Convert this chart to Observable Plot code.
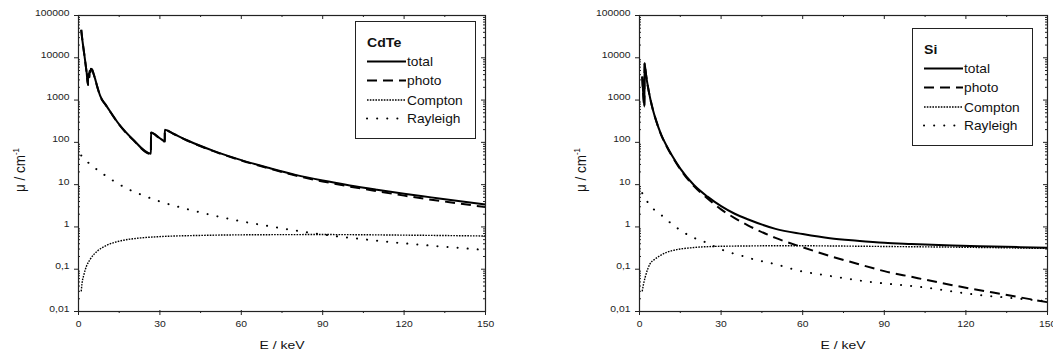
<!DOCTYPE html>
<html><head><meta charset="utf-8">
<script src="https://cdn.jsdelivr.net/npm/d3@7"></script>
<script src="https://cdn.jsdelivr.net/npm/@observablehq/plot@0.6"></script>
<style>
body{margin:0;background:#fff;font-family:"Liberation Sans",Arial,sans-serif;}
#wrap{position:relative;width:1053px;height:353px;overflow:hidden;background:#fff;}
.panel{position:absolute;top:0;}
.xtitle,.ytitle{position:absolute;color:#111;white-space:nowrap;}
.xtitle{font-size:11px;}
.ytitle{font-size:13.5px;}
.legend{position:absolute;}
</style></head><body><div id="wrap"></div>
<script>
// ---------- data ----------
const seriesNames = ["total", "photo", "Compton", "Rayleigh"];
const xTicks = [0, 30, 60, 90, 120, 150];
const yTicks = [0.01, 0.1, 1, 10, 100, 1000, 10000, 100000];

// CdTe
const cdteE = [1, 1.5, 2, 2.5, 3, 3.5, 3.52, 4.0, 4.02, 4.5, 4.52, 5, 5.5, 6, 7, 8, 10, 12, 15, 20, 26.7, 26.71, 30, 31.8, 31.81, 35, 40, 50, 60, 70, 80, 90, 100, 110, 120, 130, 140, 150];
const cdteTotal = [46000, 24000, 14000, 8000, 4500, 2300, 4100, 3500, 4900, 4600, 5500, 5300, 4300, 3400, 2000, 1250, 780, 500, 265, 118, 54, 170, 125, 107, 200, 160, 112, 62, 38, 25, 17, 12.5, 9.6, 7.6, 6.1, 5.0, 4.1, 3.4];
const cdtePhoto = [45500, 23700, 13800, 7900, 4450, 2270, 4050, 3460, 4850, 4550, 5450, 5250, 4250, 3360, 1970, 1230, 770, 494, 261, 116, 53, 168, 123, 105, 198, 158, 110.5, 61, 37.3, 24.4, 16.4, 11.9, 9.0, 7.0, 5.5, 4.4, 3.6, 2.95];
const cdteComptonE = [1, 1.3, 2, 3, 4.4, 7, 10.5, 15, 23, 30, 45, 60, 90, 120, 150];
const cdteCompton = [0.03, 0.046, 0.075, 0.12, 0.175, 0.27, 0.37, 0.46, 0.55, 0.59, 0.63, 0.65, 0.66, 0.64, 0.61];
const cdteRayleighE = [1, 2, 3, 5, 9, 12.6, 18, 24, 30, 39.4, 50, 58.4, 70, 78, 90, 104, 120, 135, 150];
const cdteRayleigh = [49, 42, 36, 28, 18, 12.6, 8, 5.5, 4.0, 2.7, 1.85, 1.42, 1.05, 0.86, 0.66, 0.52, 0.41, 0.34, 0.285];

// Si
const siE = [1, 1.83, 1.84, 2, 2.5, 3, 4, 5, 6, 8, 10, 12, 15, 20, 25, 30, 35, 40, 50, 60, 70, 80, 90, 100, 115, 130, 150];
const siTotal = [3600, 700, 7500, 6400, 3600, 2250, 1050, 570, 345, 150, 82, 48, 24, 9.8, 5.2, 3.1, 2.05, 1.5, 0.9, 0.68, 0.54, 0.47, 0.42, 0.395, 0.365, 0.345, 0.32];
const siPhoto = [3580, 690, 7480, 6380, 3590, 2240, 1045, 565, 341, 148, 80, 46.5, 23, 9.2, 4.7, 2.6, 1.62, 1.08, 0.55, 0.33, 0.205, 0.135, 0.09, 0.066, 0.042, 0.028, 0.0166];
const siComptonE = [1, 1.5, 2.1, 3, 3.9, 5.5, 7.6, 10, 12.5, 18.7, 27, 40, 55, 70, 90, 120, 150];
const siCompton = [0.03, 0.045, 0.065, 0.1, 0.135, 0.17, 0.21, 0.25, 0.28, 0.32, 0.345, 0.355, 0.36, 0.355, 0.345, 0.33, 0.31];
const siRayleighE = [1, 1.25, 3.9, 7.9, 11.7, 15.6, 19.5, 23.3, 30.9, 35, 38.6, 42.6, 46.5, 50.6, 58, 69, 85, 103.4, 121.7, 140, 150];
const siRayleigh = [6.3, 5.9, 3.2, 1.94, 1.2, 0.79, 0.57, 0.46, 0.28, 0.23, 0.2, 0.167, 0.148, 0.128, 0.094, 0.071, 0.05, 0.038, 0.026, 0.02, 0.0175];

// ---------- styles ----------
const lineStyles = {
  total:    {strokeWidth: 2,   strokeDasharray: null},
  photo:    {strokeWidth: 2,   strokeDasharray: "10,6"},
  Compton:  {strokeWidth: 1.4, strokeDasharray: "1.6,1.2"},
  Rayleigh: {strokeWidth: 2,   strokeDasharray: "0.1,10", strokeLinecap: "round"}
};

const zip = (E, v) => E.map((e, i) => ({E: e, mu: v[i]}));
const minorY = [];
for (let p = -2; p < 5; p++) for (let m = 2; m <= 9; m++) minorY.push(+(m * Math.pow(10, p)).toPrecision(3));
const minorX = d3.range(15, 150, 30);

const H = 353, MT = 15, MB = 42;
const PH = H - MT - MB;

function stretchText(svg, sel, k) {
  svg.querySelectorAll(sel).forEach(t => {
    let tr = t.getAttribute("transform") || "";
    const x = t.getAttribute("x"), y = t.getAttribute("y");
    if (x != null || y != null) {
      tr += ` translate(${+x || 0},${+y || 0})`;
      t.removeAttribute("x"); t.removeAttribute("y");
    }
    t.setAttribute("transform", tr + ` scale(${k},1)`);
  });
}

function makePanel(series, width, ml, mr) {
  const PW = width - ml - mr;
  const marks = [];
  for (const name of seriesNames) {
    const s = lineStyles[name];
    marks.push(Plot.line(series[name], {x: "E", y: "mu", stroke: "#000", curve: "monotone-x",
      strokeWidth: s.strokeWidth, strokeDasharray: s.strokeDasharray, strokeLinecap: s.strokeLinecap || "butt"}));
  }
  const xMajor = xTicks;
  const yMajor = yTicks;
  marks.push(
    Plot.frame({stroke: "#222", strokeWidth: 1.2}),
    // bottom ticks
    Plot.tickX(xMajor, {x: d => d, stroke: "#222", insetTop: PH - 1, insetBottom: -4}),
    Plot.tickX(minorX, {x: d => d, stroke: "#222", insetTop: PH, insetBottom: -2}),
    // top ticks (inward)
    Plot.tickX(xMajor, {x: d => d, stroke: "#222", insetBottom: PH - 4}),
    Plot.tickX(minorX, {x: d => d, stroke: "#222", insetBottom: PH - 2}),
    // left ticks
    Plot.tickY(yMajor, {y: d => d, stroke: "#222", insetLeft: -4, insetRight: PW - 1}),
    Plot.tickY(minorY, {y: d => d, stroke: "#222", insetLeft: 0, insetRight: PW - 2}),
    // right ticks
    Plot.tickY(yMajor, {y: d => d, stroke: "#222", insetLeft: PW - 4, insetRight: -1}),
    Plot.tickY(minorY, {y: d => d, stroke: "#222", insetLeft: PW - 2, insetRight: 0}),
    Plot.axisX({ticks: xTicks, tickSize: 0, tickPadding: 15, fontSize: 9, label: null, fill: "#222"}),
    Plot.axisY({ticks: yTicks, tickSize: 0, tickPadding: 9, fontSize: 9, label: null, fill: "#222",
      tickFormat: d => String(d).replace(".", ",")})
  );
  const svg = Plot.plot({
    width, height: H, marginLeft: ml, marginRight: mr, marginTop: MT, marginBottom: MB,
    style: {fontFamily: "'Liberation Sans', Arial, sans-serif", background: "transparent", overflow: "visible"},
    x: {domain: [0, 150]},
    y: {type: "log", domain: [0.01, 100000]},
    marks
  });
  stretchText(svg, 'g[aria-label="x-axis tick label"] text, g[aria-label="y-axis tick label"] text', 1.15);
  return svg;
}

function makeLegend(title, left, top) {
  const w = 121, h = 118;
  const svg = d3.create("svg").attr("class", "legend").attr("width", w).attr("height", h)
    .style("left", left + "px").style("top", top + "px");
  svg.append("rect").attr("x", 0.5).attr("y", 0.5).attr("width", w - 1).attr("height", h - 1)
    .attr("fill", "#fff").attr("stroke", "#222").attr("stroke-width", 1);
  const x0 = 12, x1 = 51, rowY = [40.5, 59.5, 79, 97.5];
  svg.append("text").attr("transform", `translate(${x0},25.5) scale(1.13,1)`)
    .attr("font-weight", "bold").attr("font-size", 12.5).attr("fill", "#111").text(title);
  seriesNames.forEach((name, i) => {
    const s = lineStyles[name];
    svg.append("line").attr("x1", x0).attr("x2", x1).attr("y1", rowY[i]).attr("y2", rowY[i])
      .attr("stroke", "#000").attr("stroke-width", s.strokeWidth)
      .attr("stroke-dasharray", s.strokeDasharray).attr("stroke-linecap", s.strokeLinecap || "butt");
    svg.append("text").attr("transform", `translate(${x1 + 1},${rowY[i] + 4.5}) scale(1.1,1)`)
      .attr("font-size", 12.5).attr("fill", "#111").text(name);
  });
  return svg.node();
}

const wrap = document.getElementById("wrap");
function addPanel(left, width, ml, mr, series, title, legLeft, legTop) {
  const d = document.createElement("div");
  d.className = "panel"; d.style.left = left + "px";
  d.appendChild(makePanel(series, width, ml, mr));
  wrap.appendChild(d);
  const xc = left + ml + (width - ml - mr) / 2;
  const xt = document.createElement("div");
  xt.className = "xtitle"; xt.textContent = "E / keV";
  xt.style.left = xc + "px"; xt.style.top = "339px";
  xt.style.transform = "translateX(-50%) scaleX(1.27)";
  wrap.appendChild(xt);
  const yt = document.createElement("div");
  yt.className = "ytitle"; yt.innerHTML = "μ / cm<sup style='font-size:8px'>-1</sup>";
  yt.style.left = (left + ml - 58) + "px"; yt.style.top = "170px";
  yt.style.transform = "translate(-50%,-50%) rotate(-90deg) scaleY(1.1)";
  wrap.appendChild(yt);
  wrap.appendChild(makeLegend(title, legLeft, legTop));
}

addPanel(0, 520, 78, 35, {
  total: zip(cdteE, cdteTotal), photo: zip(cdteE, cdtePhoto),
  Compton: zip(cdteComptonE, cdteCompton), Rayleigh: zip(cdteRayleighE, cdteRayleigh)
}, "CdTe", 355, 21);

addPanel(520, 533, 119, 6, {
  total: zip(siE, siTotal), photo: zip(siE, siPhoto),
  Compton: zip(siComptonE, siCompton), Rayleigh: zip(siRayleighE, siRayleigh)
}, "Si", 912, 28);
</script></body></html>
